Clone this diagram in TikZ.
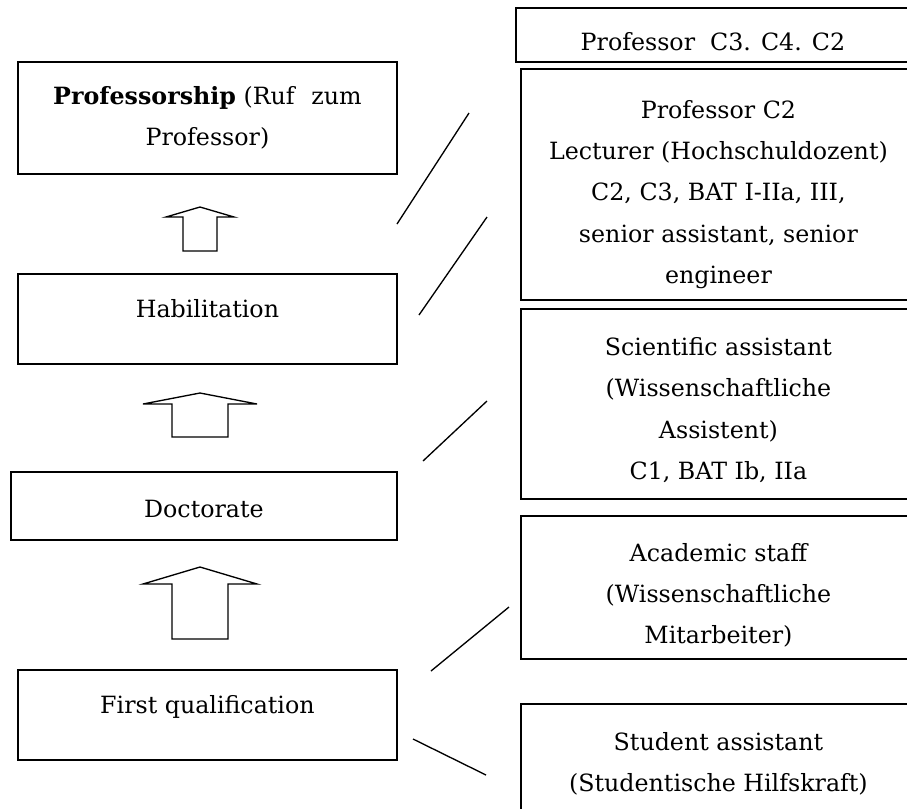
\documentclass[tikz,border=0pt]{standalone}
\usepackage{fontspec}
\setmainfont{DejaVu Serif}
\usetikzlibrary{positioning}

\begin{document}
\begin{tikzpicture}
[x=0.75pt,y=-0.75pt,
 box/.style={draw,line width=1.4pt,anchor=north west,inner sep=0pt},
 txt/.style={align=center,inner sep=0pt,font=\fontsize{17.8}{31}\selectfont},
 blockarrow/.style={draw,line width=1pt,line join=miter},
 link/.style={draw,line width=1pt}]
\useasboundingbox (0,0) rectangle (907,808);
\clip (0,0) rectangle (907,808);
% left column
\node[box,minimum width=284.25pt,minimum height=84pt](prof) at (17,61){};
\node[box,minimum width=284.25pt,minimum height=67.5pt](habil) at (17,273){};
\node[box,minimum width=289.5pt,minimum height=51pt](doct) at (10,471){};
\node[box,minimum width=284.25pt,minimum height=67.5pt](firstq) at (17,669){};
\node[txt,below=19pt of prof.north](proftxt){\textbf{Professorship} (Ruf\hspace{0.7em}zum\\Professor)};
\node[txt,below=20pt of habil.north](habiltxt){Habilitation};
\node[txt,below=22pt of doct.north](docttxt){Doctorate};
\node[txt,below=20pt of firstq.north](firstqtxt){First qualification};
% right column
\node[box,minimum width=295.5pt,minimum height=40.5pt](rprof) at (515,7){};
\node[box,minimum width=296.25pt,minimum height=173.25pt](rlect) at (520,68){};
\node[box,minimum width=296.25pt,minimum height=142.5pt](rsci) at (520,308){};
\node[box,minimum width=296.25pt,minimum height=107.25pt](rstaff) at (520,515){};
\node[box,minimum width=296.25pt,minimum height=117.75pt](rstud) at (520,703){};
\node[txt,below=19pt of rprof.north](rproftxt){Professor\ \ C3. C4. C2};
\node[txt,below=24pt of rlect.north](rlecttxt){Professor C2\\Lecturer (Hochschuldozent)\\C2, C3, BAT I-IIa, III,\\senior assistant, senior\\engineer};
\node[txt,below=22pt of rsci.north](rscitxt){Scientific assistant\\(Wissenschaftliche\\Assistent)\\C1, BAT Ib, IIa};
\node[txt,below=21pt of rstaff.north](rstafftxt){Academic staff\\(Wissenschaftliche\\Mitarbeiter)};
\node[txt,below=22pt of rstud.north](rstudtxt){Student assistant\\(Studentische Hilfskraft)};
% block arrows: tip/wing/half wing/half shaft/bottom
\foreach \tip/\wing/\hw/\hs/\bot in {207/217/34/17/251,393/404/57/28/437,567/584/57/28/639}
  \draw[blockarrow] (200,\tip) -- (200+\hw,\wing) -- (200+\hs,\wing) -- (200+\hs,\bot)
    -- (200-\hs,\bot) -- (200-\hs,\wing) -- (200-\hw,\wing) -- cycle;
% connecting strokes
\coordinate (l1a) at (397,224); \coordinate (l1b) at (469,113);
\coordinate (l2a) at (419,315); \coordinate (l2b) at (487,217);
\coordinate (l3a) at (423,461); \coordinate (l3b) at (487,401);
\coordinate (l4a) at (431,671); \coordinate (l4b) at (509,607);
\coordinate (l5a) at (413,739); \coordinate (l5b) at (486,775);
\path[link] (l1a) -- (l1b) (l2a) -- (l2b) (l3a) -- (l3b) (l4a) -- (l4b) (l5a) -- (l5b);
\end{tikzpicture}
\end{document}
